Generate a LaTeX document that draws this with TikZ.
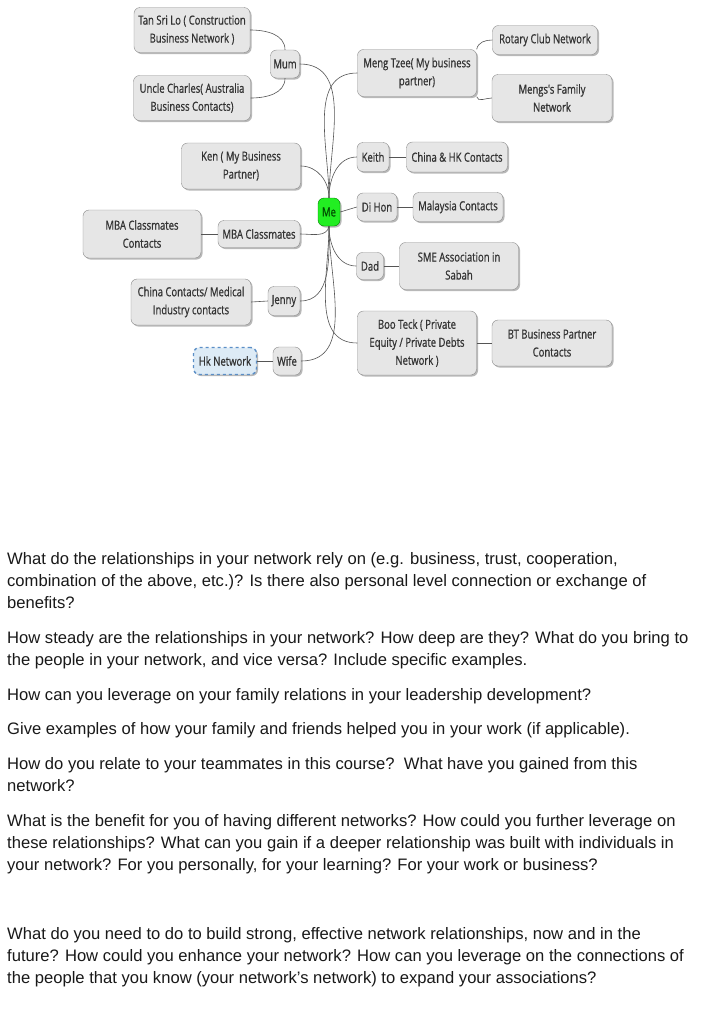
\documentclass[tikz,border=0pt]{standalone}
\usepackage{fontspec}
\setmainfont{Liberation Sans}
\newfontfamily\mapfont[FakeStretch=0.76, FakeBold=0.8]{Open Sans}
\newfontfamily\askfont{Liberation Sans}
\usetikzlibrary{shadows}
\definecolor{boxfill}{HTML}{E6E6E6}
\definecolor{boxline}{HTML}{8A8A8A}
\definecolor{linkline}{HTML}{555555}
\definecolor{megreen}{HTML}{22EE22}
\definecolor{hkfill}{HTML}{DDEBF6}
\definecolor{hkline}{HTML}{5B8FC7}
\tikzset{
  topic/.style={draw=boxline, fill=boxfill, rounded corners=6pt, align=center,
    font=\mapfont\fontsize{12.5}{18}\selectfont, text=black!80, inner sep=2pt,
    drop shadow={shadow xshift=1.5pt, shadow yshift=-1.5pt, fill=black!55}},
  link/.style={draw=linkline, line width=0.6pt},
  ask/.style={anchor=base west, align=left, inner sep=0pt,
    font=\askfont\fontsize{16.6}{22}\selectfont, text=black!90}
}
\begin{document}
\begin{tikzpicture}[x=1pt,y=-1pt]
\useasboundingbox[fill=white] (0,0) rectangle (706,1018);

% centre
\node[topic, fill=megreen, draw=green!50!black, text=green!30!black,
  minimum width=22pt, minimum height=28pt] (me) at (329,212) {Me};

% left branches
\node[topic, minimum width=29pt, minimum height=28pt] (mum) at (285,64) {Mum};
\node[topic, minimum width=116pt, minimum height=45pt] (tansri) at (192,30) {Tan Sri Lo ( Construction\\Business Network )};
\node[topic, minimum width=117pt, minimum height=45pt] (charles) at (192,98) {Uncle Charles( Australia\\Business Contacts)};
\node[topic, minimum width=119pt, minimum height=46pt] (ken) at (241,166) {Ken ( My Business\\Partner)};
\node[topic, minimum width=82pt, minimum height=27pt] (mba) at (259,234) {MBA Classmates};
\node[topic, minimum width=118pt, minimum height=48pt] (mbacon) at (142,234) {MBA Classmates\\Contacts};
\node[topic, minimum width=32pt, minimum height=29pt] (jenny) at (284,301) {Jenny};
\node[topic, minimum width=120pt, minimum height=46pt] (china) at (191,302) {China Contacts/ Medical\\Industry contacts};
\node[topic, minimum width=28pt, minimum height=28pt] (wife) at (287,361) {Wife};
\node[topic, fill=hkfill, draw=hkline, dashed, line width=1.4pt,
  minimum width=63pt, minimum height=27pt] (hk) at (225,361) {Hk Network};

% right branches
\node[topic, minimum width=119pt, minimum height=47pt] (meng) at (417,73) {Meng Tzee( My business\\partner)};
\node[topic, minimum width=105pt, minimum height=29pt] (rotary) at (545,40) {Rotary Club Network};
\node[topic, minimum width=120pt, minimum height=47pt] (mengfam) at (552,98) {Mengs's Family\\Network};
\node[topic, minimum width=32pt, minimum height=29pt] (keith) at (373,157) {Keith};
\node[topic, minimum width=101pt, minimum height=30pt] (chinahk) at (457,157) {China \& HK Contacts};
\node[topic, minimum width=40pt, minimum height=28pt] (dihon) at (377,207) {Di Hon};
\node[topic, minimum width=90pt, minimum height=29pt] (malaysia) at (458,207) {Malaysia Contacts};
\node[topic, minimum width=27pt, minimum height=27pt] (dad) at (370,266) {Dad};
\node[topic, minimum width=119pt, minimum height=47pt] (sme) at (459,266) {SME Association in\\Sabah};
\node[topic, minimum width=119pt, minimum height=64pt] (boo) at (417,343) {Boo Teck ( Private\\Equity / Private Debts\\Network )};
\node[topic, minimum width=120pt, minimum height=46pt] (bt) at (552,343) {BT Business Partner\\Contacts};

% connectors from me
\draw[link] (me.north) to[out=90,in=0] (mum.east);
\draw[link] (me.north) to[out=90,in=0] (ken.east);
\draw[link] (me.north) to[out=90,in=180] (meng.west);
\draw[link] (me.north) to[out=90,in=180] (keith.west);
\draw[link] (me.east) -- (dihon.west);
\draw[link] (me.south) to[out=-100,in=0] (mba.east);
\draw[link] (me.south) to[out=-90,in=0] (jenny.east);
\draw[link] (me.south) to[out=-90,in=0] (wife.east);
\draw[link] (me.south) to[out=-90,in=180] (dad.west);
\draw[link] (me.south) to[out=-90,in=180] (boo.west);

% second level
\draw[link] (tansri.east) to[out=0,in=90] (mum.north);
\draw[link] (charles.east) to[out=0,in=-90] (mum.south);
\draw[link] (meng.north east) to[out=80,in=180] (rotary.west);
\draw[link] (meng.south east) to[out=-80,in=180] (mengfam.west);
\draw[link] (mba.west) -- (mbacon.east);
\draw[link] (jenny.west) -- (china.east);
\draw[link] (wife.west) -- (hk.east);
\draw[link] (keith.east) -- (chinahk.west);
\draw[link] (dihon.east) -- (malaysia.west);
\draw[link] (dad.east) -- (sme.west);
\draw[link] (boo.east) -- (bt.west);

% questions (placed at the baseline of their last line)
\node[ask] (q1) at (7,608) {What do the relationships in your network rely on (e.g. business, trust, cooperation,\\combination of the above, etc.)? Is there also personal level connection or exchange of\\benefits?};
\node[ask] (q2) at (7,665) {How steady are the relationships in your network? How deep are they? What do you bring to\\the people in your network, and vice versa? Include specific examples.};
\node[ask] (q3) at (7,700) {How can you leverage on your family relations in your leadership development?};
\node[ask] (q4) at (7,734) {Give examples of how your family and friends helped you in your work (if applicable).};
\node[ask] (q5) at (7,791) {How do you relate to your teammates in this course?\ \ What have you gained from this\\network?};
\node[ask] (q6) at (7,870) {What is the benefit for you of having different networks? How could you further leverage on\\these relationships? What can you gain if a deeper relationship was built with individuals in\\your network? For you personally, for your learning? For your work or business?};
\node[ask] (q7) at (7,983) {What do you need to do to build strong, effective network relationships, now and in the\\future? How could you enhance your network? How can you leverage on the connections of\\the people that you know (your network’s network) to expand your associations?};
\end{tikzpicture}
\end{document}
